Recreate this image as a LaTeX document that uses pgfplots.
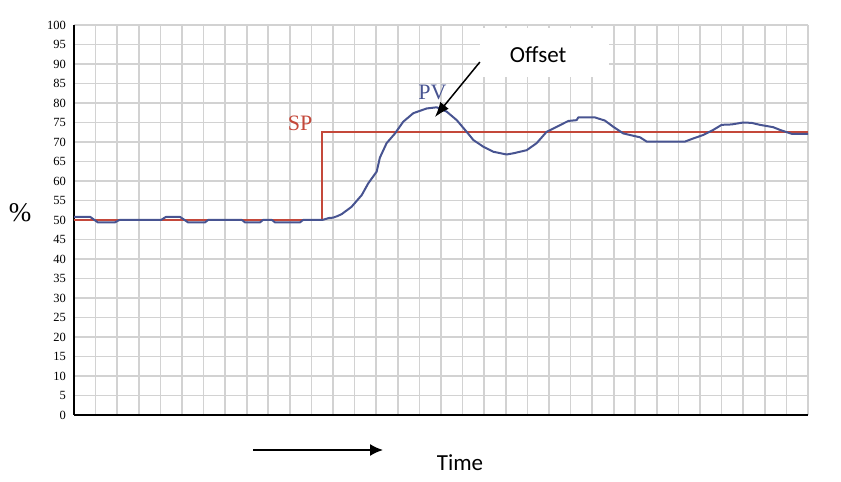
\documentclass[border=0pt]{standalone}
\usepackage{pgfplots}
\pgfplotsset{compat=1.18}
\usepackage{fontspec}
\setmainfont{Liberation Serif}
\newfontfamily\calib{Carlito}
\usetikzlibrary{arrows.meta}
\definecolor{spred}{RGB}{196,72,58}
\definecolor{pvblue}{RGB}{72,84,145}
\definecolor{gridgray}{RGB}{210,210,210}
\begin{document}
\begin{tikzpicture}[x=1pt,y=1pt]
\path[use as bounding box] (0pt,0pt) rectangle (841pt,482pt);
\begin{axis}[
  at={(74pt,67pt)}, anchor=south west,
  scale only axis, width=734pt, height=390pt,
  xmin=0, xmax=34, ymin=0, ymax=100,
  xtick={0,1,...,34}, xticklabels={},
  ytick={0,5,...,100},
  grid=major,
  grid style={gridgray, line width=1.6pt},
  axis x line*=bottom, axis y line*=left,
  axis line style={black, line width=2pt},
  major tick length=0pt,
  /pgf/number format/assume math mode=true,
  yticklabel style={font=\fontsize{12.5}{14}\selectfont, anchor=east, inner sep=0pt, xshift=-8pt},
  clip=false,
]
\addplot[spred, line width=1.7pt] coordinates {
(0,50) (11.5,50) (11.5,72.5) (34,72.5)
};
\addplot[pvblue, line width=2pt, line join=round] coordinates {
(0,50.8) (0.75,50.8) (1.1,49.4) (1.9,49.4) (2.1,50) (4.03,50) (4.26,50.8) (4.91,50.8)
(5.28,49.4) (6.07,49.4) (6.21,50) (7.78,50) (7.92,49.4) (8.62,49.4) (8.75,50) (9.17,50)
(9.31,49.4) (10.47,49.4) (10.61,50) (11.5,50) (11.8,50.5) (12.0,50.6) (12.2,51) (12.4,51.5)
(12.86,53.4) (13.33,56.4) (13.63,59.4) (14.02,62.4) (14.17,66) (14.48,69.7) (14.87,72.2)
(15.25,75.2) (15.72,77.4) (16.34,78.6) (16.80,78.9) (17.26,77.8) (17.73,75.6) (18.19,72.6)
(18.50,70.5) (18.96,68.8) (19.42,67.5) (20.04,66.8) (20.35,67.1) (20.97,67.9) (21.43,69.7)
(21.89,72.6) (22.36,73.9) (22.9,75.4) (23.28,75.6) (23.36,76.3) (24.13,76.3) (24.59,75.5)
(24.98,73.9) (25.44,72.2) (25.75,71.8) (26.22,71.2) (26.53,70.1) (28.30,70.1) (28.68,70.9)
(29.15,71.8) (29.61,73.1) (30.00,74.4) (30.46,74.5) (31.0,75.0) (31.39,74.9) (31.77,74.4)
(32.39,73.8) (32.70,73.1) (33.24,72.1) (34,72.1)
};
\fill[white] (axis cs:18.8,99.2) rectangle (axis cs:24.8,86.7);
\node[font=\calib\fontsize{23}{26}\selectfont] at (axis cs:21.5,92.5) {Offset};
\draw[black, line width=1.5pt, -{Latex[length=15pt,width=11pt]}] (axis cs:18.8,90.5) -- (axis cs:16.72,76.4);
\node[spred, font=\fontsize{22}{24}\selectfont] at (axis cs:10.47,74.9) {SP};
\node[pvblue, font=\fontsize{22}{24}\selectfont] at (axis cs:16.6,82.6) {PV};
\end{axis}
\node[font=\fontsize{27}{30}\selectfont] at (20pt,269pt) {\%};
\draw[black, line width=1.6pt, -{Latex[length=13pt,width=12pt]}] (253pt,32pt) -- (383pt,32pt);
\node[font=\calib\fontsize{23}{26}\selectfont] at (460pt,19pt) {Time};
\end{tikzpicture}
\end{document}
